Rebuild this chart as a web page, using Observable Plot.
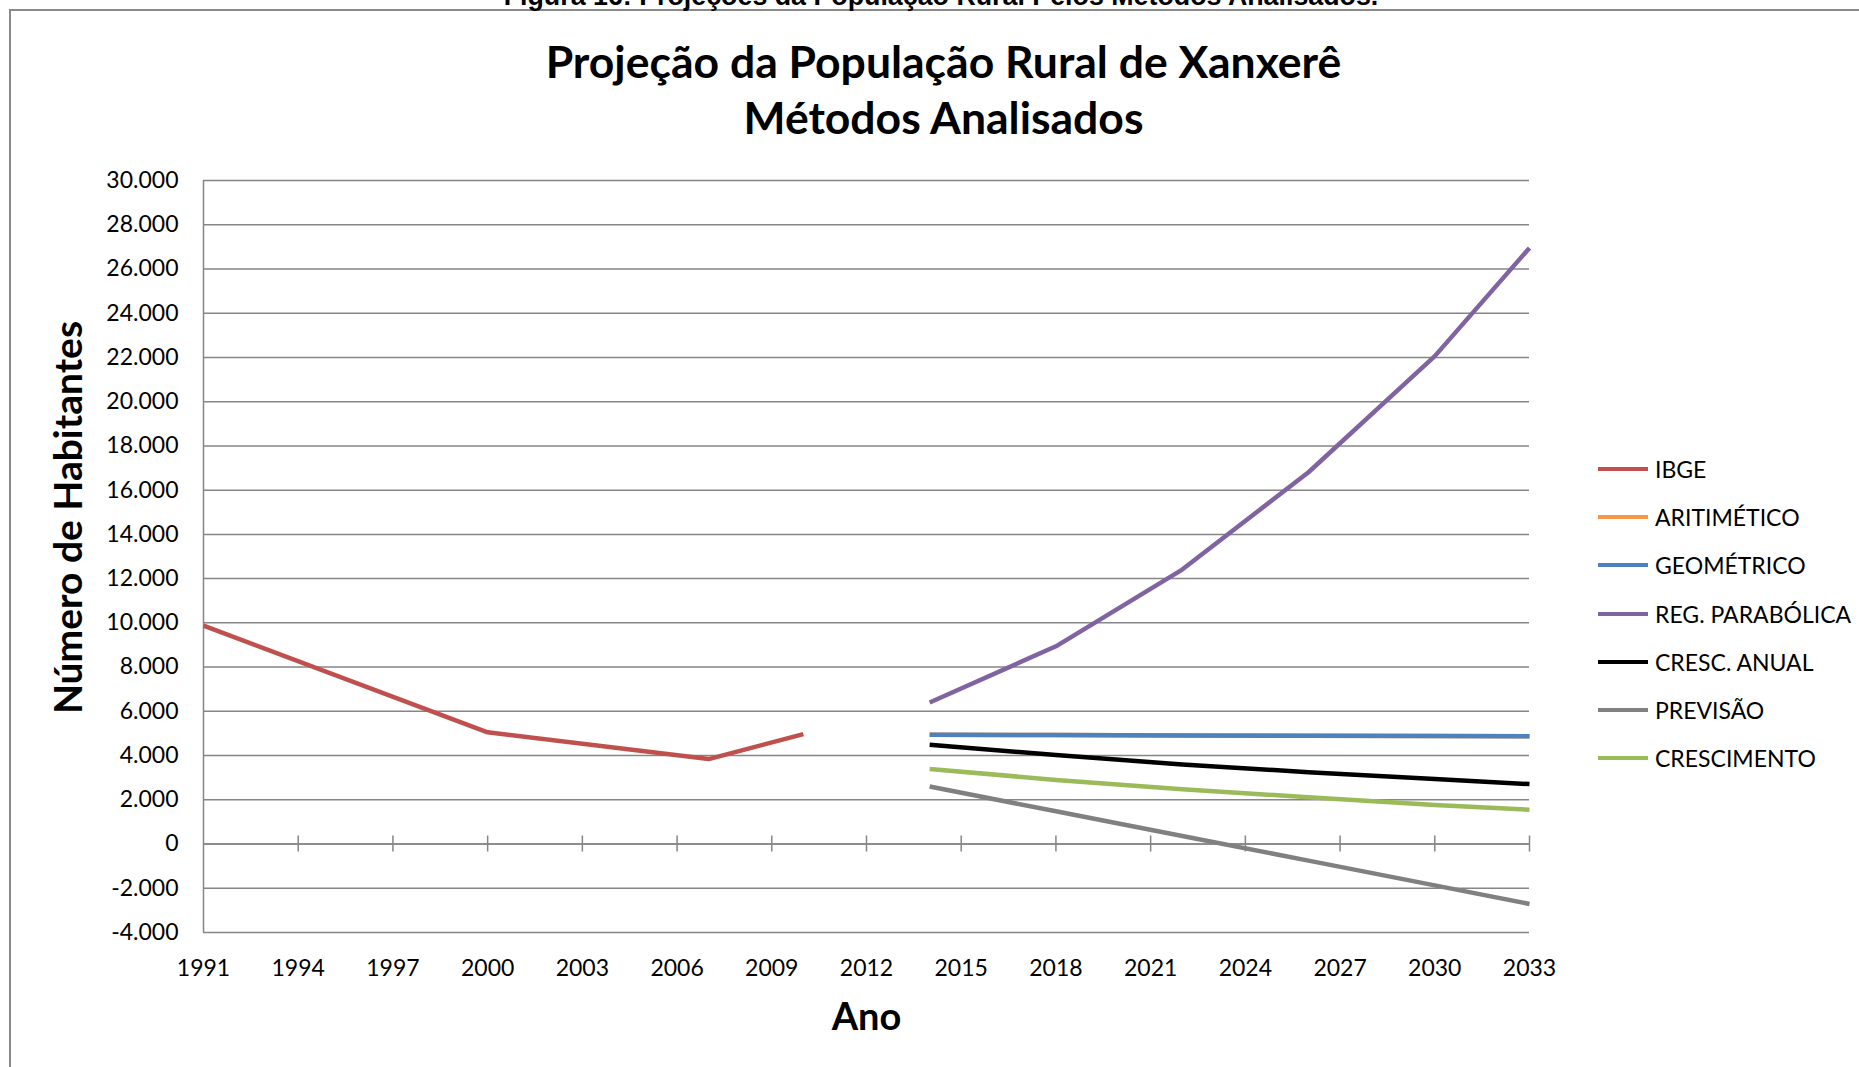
<!DOCTYPE html>
<html>
<head>
<meta charset="utf-8">
<script src="https://cdn.jsdelivr.net/npm/d3@7"></script>
<script src="https://cdn.jsdelivr.net/npm/@observablehq/plot@0.6"></script>
<style>
  html, body { margin: 0; padding: 0; background: #fff; overflow: hidden; }
  #wrap { position: relative; width: 1859px; height: 1067px; overflow: hidden; font-family: Lato, sans-serif; }
  #frame { position: absolute; left: 9px; top: 9px; width: 2000px; height: 2000px; border-top: 2px solid #8a8a8a; border-left: 2px solid #8a8a8a; }
  #fig { position: absolute; left: 0; width: 1882px; top: -17.5px; text-align: center; font-family: "Liberation Sans", Arial, sans-serif; font-weight: bold; font-size: 26.8px; line-height: 26.8px; color: #000; }
  #title { position: absolute; left: 0; width: 1887px; top: 33px; text-align: center; font-weight: bold; font-size: 44.5px; line-height: 56px; color: #000; }
  #legend { position: absolute; left: 1598px; top: 445px; }
  .item { display: flex; align-items: center; height: 48.2px; font-size: 23px; color: #000; }
  .sw { width: 50px; height: 4px; margin-right: 7px; }
  svg { position: absolute; left: 0; top: 0; }
</style>
</head>
<body>
<div id="wrap">
  <div id="frame"></div>
  <div id="fig">Figura 16: Projeções da População Rural Pelos Métodos Analisados.</div>
  <div id="title">Projeção da População Rural de Xanxerê<br>Métodos Analisados</div>
  <div id="legend"></div>
</div>
<script>
// ---- data ----
const seriesNames  = ["IBGE", "ARITIMÉTICO", "GEOMÉTRICO", "REG. PARABÓLICA", "CRESC. ANUAL", "PREVISÃO", "CRESCIMENTO"];
const seriesColors = ["#C0504D", "#F79646", "#4F81BD", "#8064A2", "#000000", "#808080", "#9BBB59"];

const yearsIBGE = [1991, 2000, 2007, 2010];
const ibge      = [9870, 5050, 3840, 4970];

const yearsProj     = [2014, 2018, 2022, 2026, 2030, 2033];
const aritmetico    = [4940, 4930, 4910, 4900, 4880, 4870];
const geometrico    = [4940, 4925, 4910, 4895, 4880, 4870];
const regParabolica = [6400, 8940, 12410, 16810, 22060, 26950];
const crescAnual    = [4490, 4020, 3600, 3250, 2940, 2710];
const previsao      = [2600, 1480, 360, -750, -1870, -2710];
const crescimento   = [3390, 2900, 2480, 2110, 1760, 1550];

const xTicks = d3.range(1991, 2034, 3);
const yTicks = d3.range(-4000, 30001, 2000);

// ---- build table ----
const rows = [];
yearsIBGE.forEach((y, i) => rows.push({series: "IBGE", year: y, value: ibge[i]}));
const proj = [["ARITIMÉTICO", aritmetico], ["GEOMÉTRICO", geometrico], ["REG. PARABÓLICA", regParabolica],
              ["CRESC. ANUAL", crescAnual], ["PREVISÃO", previsao], ["CRESCIMENTO", crescimento]];
proj.forEach(([name, vals]) => yearsProj.forEach((y, i) => rows.push({series: name, year: y, value: vals[i]})));

const fmt = d3.formatLocale({decimal: ",", thousands: ".", grouping: [3], currency: ["R$", ""], minus: "-"}).format(",d");
const grid = "#868686";

const chart = Plot.plot({
  width: 1859,
  height: 1067,
  marginLeft: 203,
  marginRight: 330,
  marginTop: 180,
  marginBottom: 135,
  x: {domain: [1991, 2033]},
  y: {domain: [-4000, 30000]},
  color: {domain: seriesNames, range: seriesColors},
  style: {fontFamily: "Lato, sans-serif", fontSize: "23px", color: "#000", background: "transparent", overflow: "visible"},
  marks: [
    Plot.gridY(yTicks, {stroke: grid, strokeOpacity: 1, strokeWidth: 1.5}),
    Plot.ruleX([1991], {stroke: grid, strokeWidth: 1.5}),
    Plot.ruleY([0], {stroke: grid, strokeWidth: 1.5}),
    Plot.ruleX(xTicks.slice(1), {y1: 0, y2: 0, insetTop: -8, insetBottom: -8, stroke: grid, strokeWidth: 1.5}),
    Plot.axisX(xTicks, {tickSize: 0, tickPadding: 27, tickFormat: "d", label: null, fontSize: 23}),
    Plot.axisY(yTicks, {tickSize: 0, tickPadding: 25, tickFormat: fmt, label: null, fontSize: 23}),
    Plot.line(rows, {x: "year", y: "value", z: "series", stroke: "series", strokeWidth: 4.5,
                     strokeLinejoin: "round", strokeLinecap: "butt"}),
    Plot.text(["Número de Habitantes"], {frameAnchor: "left", textAnchor: "middle", rotate: -90, dx: -134, dy: -39,
                     fontWeight: "bold", fontSize: 39}),
    Plot.text(["Ano"], {frameAnchor: "bottom", lineAnchor: "middle", dy: 85, fontWeight: "bold", fontSize: 38})
  ]
});
document.getElementById("wrap").appendChild(chart);

// ---- legend ----
const leg = document.getElementById("legend");
seriesNames.forEach((n, i) => {
  const it = document.createElement("div");
  it.className = "item";
  const sw = document.createElement("div");
  sw.className = "sw";
  sw.style.background = seriesColors[i];
  const tx = document.createElement("span");
  tx.textContent = n;
  it.appendChild(sw); it.appendChild(tx);
  leg.appendChild(it);
});
</script>
</body>
</html>
